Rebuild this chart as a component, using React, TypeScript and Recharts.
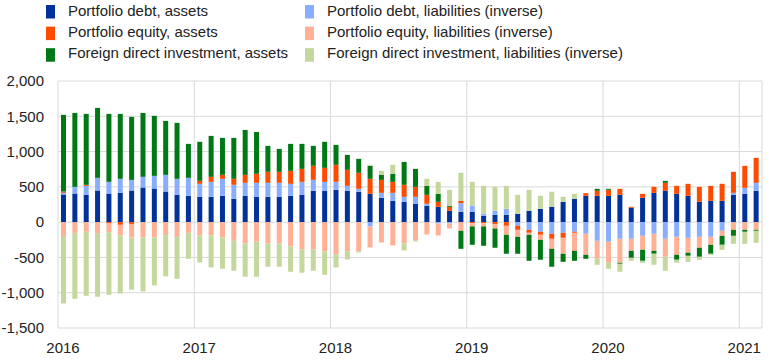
import React from 'react';
import { BarChart, Bar, XAxis, YAxis, CartesianGrid } from 'recharts';

const yearLabels = ['2016', '2017', '2018', '2019', '2020', '2021'];
const yTicks = [-1500, -1000, -500, 0, 500, 1000, 1500, 2000];

// monthly, Jan 2016 .. Feb 2021 (EUR bn)
const debtAssets = [392, 406, 387, 448, 406, 415, 448, 491, 477, 434, 387, 373, 359, 359, 373, 330, 373, 359, 359, 359, 373, 387, 444, 444, 458, 444, 430, 401, 345, 302, 288, 260, 231, 217, 160, 146, 146, 90, 104, 104, 118, 160, 189, 217, 288, 330, 373, 373, 373, 387, 203, 345, 415, 444, 401, 373, 288, 302, 302, 387, 401, 444];
const debtLiab = [23, 94, 127, 180, 165, 199, 151, 151, 179, 236, 227, 255, 184, 212, 241, 199, 184, 198, 198, 198, 170, 184, 155, 127, 113, 70, 42, -61, 70, 113, 71, 99, 29, -19, -19, 123, 85, 28, 56, 85, -52, -109, -137, -165, -151, -137, -165, -264, -278, -236, -236, -194, -165, -236, -208, -222, -208, -208, -123, 28, 85, 113];
const equityAssets = [19, 0, 15, 0, -19, -38, -33, 0, 0, 0, 0, 0, 42, 71, 56, 85, 113, 127, 156, 156, 184, 184, 199, 198, 241, 227, 227, 213, 184, 156, 170, 141, 127, 71, 57, 33, -14, -14, -28, -52, -57, -42, -42, -71, -71, -14, 38, 71, 85, 85, 14, 56, 85, 113, 113, 170, 212, 212, 241, 298, 312, 354];
const equityLiab = [-208, -151, -137, -156, -123, -151, -184, -217, -217, -184, -208, -151, -189, -189, -217, -264, -302, -274, -302, -302, -345, -387, -387, -415, -458, -415, -415, -298, -288, -330, -302, -260, -175, -170, -71, -123, -47, -47, -62, -127, -99, -28, -71, -142, -226, -255, -298, -255, -298, -340, -170, -198, -241, -255, -255, -212, -155, -113, -71, -109, -109, -109];
const fdiAssets = [1086, 1048, 1005, 991, 963, 920, 893, 906, 850, 765, 793, 481, 553, 580, 524, 580, 637, 595, 368, 325, 382, 354, 283, 369, 283, 212, 198, 184, 71, 113, 325, 255, 127, 113, 14, -255, -260, -274, -273, -269, -240, -369, -283, -254, -114, -142, -56, 28, 14, -14, -99, -156, -42, 28, -70, -43, -128, -127, -127, -85, -28, -14];
const fdiLiab = [-944, -935, -906, -901, -887, -821, -741, -765, -680, -585, -594, -368, -382, -453, -444, -425, -472, -500, -330, -330, -358, -330, -302, -331, -184, -114, -15, 14, 57, 128, -99, -14, 100, 170, 227, 397, 340, 396, 340, 325, 269, 298, 184, 213, 71, 71, 0, -85, -85, -113, -43, -28, -156, -198, -43, -85, -42, -15, -71, -113, -170, -170];

const series = [
  { key: 'debtAssets', name: 'Portfolio debt, assets', color: '#003299', values: debtAssets },
  { key: 'debtLiab', name: 'Portfolio debt, liabilities (inverse)', color: '#8aaeff', values: debtLiab },
  { key: 'equityAssets', name: 'Portfolio equity, assets', color: '#ff4b00', values: equityAssets },
  { key: 'equityLiab', name: 'Portfolio equity, liabilities (inverse)', color: '#ffb095', values: equityLiab },
  { key: 'fdiAssets', name: 'Foreign direct investment, assets', color: '#007816', values: fdiAssets },
  { key: 'fdiLiab', name: 'Foreign direct investment, liabilities (inverse)', color: '#c4d79c', values: fdiLiab },
];

const data = debtAssets.map((_, i) => {
  const row: Record<string, number> = { x: i + 0.5 };
  series.forEach(s => { row[s.key] = s.values[i]; });
  return row;
});

const font = '"Liberation Sans", Arial, sans-serif';

const legendCols = [
  { x: 46, items: ['debtAssets', 'equityAssets', 'fdiAssets'] },
  { x: 305, items: ['debtLiab', 'equityLiab', 'fdiLiab'] },
];

const Legend = () => (
  <svg width={780} height={70} style={{ position: 'absolute', left: 0, top: 0 }}>
    {legendCols.map(col =>
      col.items.map((k, r) => {
        const s = series.find(d => d.key === k)!;
        return (
          <g key={k}>
            <rect x={col.x} y={5 + r * 21.6} width={9} height={13.5} fill={s.color} />
            <text x={col.x + 22} y={15.5 + r * 21.4} fontSize={15} fontFamily={font} fill="#222">{s.name}</text>
          </g>
        );
      })
    )}
  </svg>
);

const XTick = (props: any) => {
  const { x, y, payload } = props;
  return (
    <text x={x + 5} y={y} dy="0.71em" textAnchor="middle" fontSize={15} fontFamily={font} fill="#222">
      {yearLabels[Math.round(payload.value / 12)]}
    </text>
  );
};

export default function App() {
  return (
    <div style={{ position: 'absolute', left: 0, top: 0, width: 780, height: 362, background: '#fff' }}>
      <Legend />
      <BarChart width={780} height={362} data={data} stackOffset="sign"
        margin={{ top: 81, right: 18, bottom: 4, left: 0 }} style={{ fontFamily: font }}>
        <CartesianGrid stroke="#d9d9d9" />
        <XAxis type="number" dataKey="x" domain={[0, 62]} ticks={[0, 12, 24, 36, 48, 60]}
          axisLine={false} tickLine={false} tickMargin={8} height={30} tick={<XTick />} />
        <YAxis domain={[-1500, 2000]} ticks={yTicks} width={58} axisLine={false} tickLine={false}
          tickMargin={8} tickFormatter={(v: number) => v.toLocaleString('en-US')}
          tick={{ fontSize: 15, fill: '#222', fontFamily: font }} />
        {series.map(s => (
          <Bar key={s.key} dataKey={s.key} stackId="a" fill={s.color} barSize={5} isAnimationActive={false} />
        ))}
      </BarChart>
    </div>
  );
}
